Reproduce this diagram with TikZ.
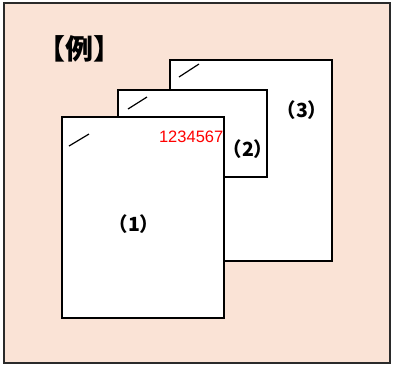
\documentclass[tikz,border=0pt]{standalone}
\usepackage{fontspec}
\setmainfont{Liberation Sans}
\newfontfamily\cjk{Noto Sans CJK JP}
\definecolor{bgpeach}{HTML}{FAE3D6}
\definecolor{framegray}{HTML}{2A2A2A}
\tikzset{
  page/.style={draw=black, fill=white, line width=1.4pt},
  slash/.style={draw=black, line width=1.2pt},
  numlabel/.style={font=\cjk\bfseries\fontsize{19.5}{19.5}\selectfont, inner sep=0pt},
}
\begin{document}
\begin{tikzpicture}[x=1pt,y=-1pt]
\useasboundingbox (0,0) rectangle (393,365);
\draw[fill=bgpeach, draw=framegray, line width=2pt] (4,3) rectangle (390,363);
\node[font=\cjk\bfseries\fontsize{28}{28}\selectfont, inner sep=0pt] (title) at (79.5,49) {【例】};
% page 3
\draw[page] (170,60) rectangle (332,261);
\coordinate (s3a) at (179,77); \coordinate (s3b) at (199,64);
\draw[slash] (s3a) -- (s3b);
\node[numlabel] (l3) at (302,110) {（3）};
% page 2
\draw[page] (118,90) rectangle (267,177);
\coordinate (s2a) at (128,109); \coordinate (s2b) at (147,97);
\draw[slash] (s2a) -- (s2b);
\node[numlabel] (l2) at (248,149) {（2）};
% page 1
\draw[page] (62,117) rectangle (224,318);
\coordinate (s1a) at (69,146); \coordinate (s1b) at (89,134);
\draw[slash] (s1a) -- (s1b);
\node[numlabel] (l1) at (134,224) {（1）};
\node[font=\fontsize{16.5}{16.5}\selectfont, text=red, anchor=east, inner sep=0pt] (num) at (223.5,137) {1234567};
\end{tikzpicture}
\end{document}
